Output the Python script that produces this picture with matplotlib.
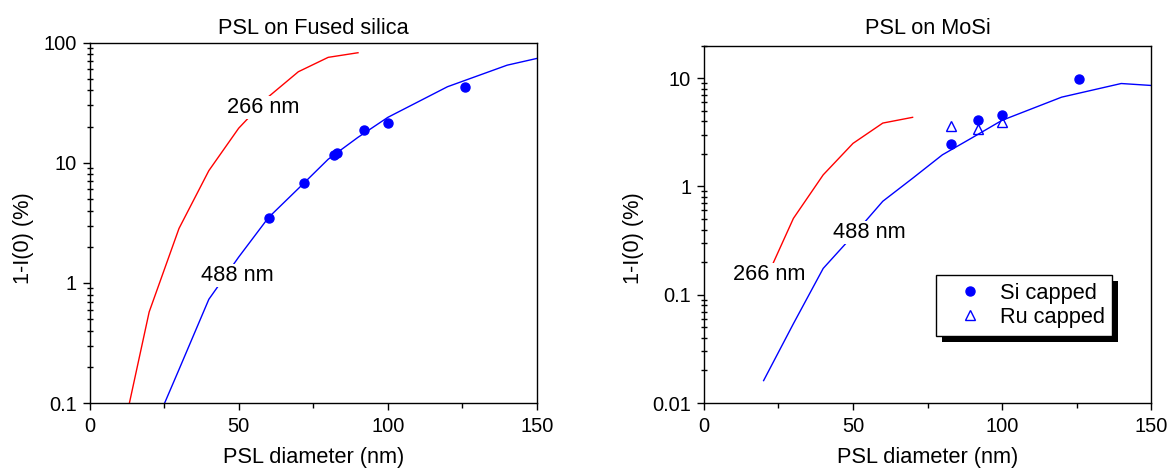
#python3

import numpy as np
import matplotlib
matplotlib.use('Agg')
import matplotlib.pyplot as plt
from matplotlib.patches import Rectangle
from matplotlib.ticker import LogLocator, NullFormatter, FuncFormatter

plt.rcParams['font.family'] = ['Liberation Sans', 'DejaVu Sans']

#PSL on fused silica: calculated curves (266 nm, 488 nm) and measured points
fs_d266 = [10, 20, 30, 40, 50, 60, 70, 80, 90]
fs_t266 = [0.041, 0.573, 2.84, 8.6, 19.4, 35.5, 57.3, 75.5, 82.5]
fs_d488 = [20, 30, 40, 50, 60, 70, 80, 90, 100, 120, 140, 150]
fs_t488 = [0.05, 0.19, 0.73, 1.64, 3.5, 6.1, 10.7, 16.3, 23.9, 43, 65, 74]
fs_meas_d = [60, 72, 82, 83, 92, 100, 126]
fs_meas_t = [3.5, 6.8, 11.6, 12.1, 18.8, 21.3, 42.4]

#PSL on MoSi
mo_d266 = [20, 30, 40, 50, 60, 70]
mo_t266 = [0.125, 0.507, 1.28, 2.5, 3.85, 4.35]
mo_d488 = [20, 30, 40, 50, 60, 70, 80, 90, 100, 120, 140, 150]
mo_t488 = [0.0161, 0.054, 0.175, 0.352, 0.73, 1.19, 1.96, 2.82, 4.08, 6.68, 8.93, 8.57]
si_d = [83, 92, 100, 126]
si_t = [2.49, 4.1, 4.6, 9.93]
ru_d = [83, 92, 100]
ru_t = [3.62, 3.37, 3.96]

W, H = 1171, 473
fs_big = 15.7
fs_tick = 14.4

fig = plt.figure(figsize=(W/100, H/100), dpi=100)
ax1 = fig.add_axes([89.5/W, 70/H, 447.5/W, 360.3/H])
ax2 = fig.add_axes([704/W, 70/H, 447/W, 357.4/H])


def style_axes(ax, ylo, yhi):
    ax.set_yscale('log')
    ax.set_xlim(0, 150)
    ax.set_ylim(ylo, yhi)
    ax.set_xticks([0, 50, 100, 150])
    ax.set_xticks([25, 75, 125], minor=True)
    ax.yaxis.set_major_locator(LogLocator(base=10, numticks=10))
    ax.yaxis.set_minor_locator(LogLocator(base=10, subs=np.arange(2, 10), numticks=20))
    ax.yaxis.set_major_formatter(FuncFormatter(lambda v, p: '%g' % v))
    ax.yaxis.set_minor_formatter(NullFormatter())
    ax.tick_params(which='major', direction='out', length=4.7, width=1,
                   labelsize=fs_tick, top=False, right=False)
    ax.tick_params(axis='x', which='major', pad=5.5)
    ax.tick_params(axis='y', which='major', pad=4.5)
    ax.tick_params(axis='y', which='minor', direction='inout', length=5, width=1, right=False)
    ax.tick_params(axis='x', which='minor', direction='out', length=3.5, width=1, top=False)
    for sp in ax.spines.values():
        sp.set_linewidth(1)
    ax.set_xlabel('PSL diameter (nm)', fontsize=fs_big)
    ax.set_ylabel('1-I(0) (%)', fontsize=fs_big)


def curve_label(ax, x, y, s):
    ax.text(x, y, s, ha='left', va='baseline', fontsize=fs_big, zorder=3,
            bbox=dict(boxstyle='square,pad=0.05', fc='white', ec='none'))


#left panel
ax1.plot(fs_d266, fs_t266, color='red', lw=1)
ax1.plot(fs_d488, fs_t488, color='blue', lw=1)
ax1.plot(fs_meas_d, fs_meas_t, 'o', color='blue', ms=6.5)
curve_label(ax1, 46.2, 25.8, '266 nm')
curve_label(ax1, 37.3, 1.04, '488 nm')
style_axes(ax1, 0.1, 100)
ax1.set_title('PSL on Fused silica', fontsize=fs_big, pad=6.3)
ax1.xaxis.set_label_coords(0.5, -0.1235)
ax1.yaxis.set_label_coords(-0.124, 0.458)

#right panel
ax2.plot(mo_d266, mo_t266, color='red', lw=1)
ax2.plot(mo_d488, mo_t488, color='blue', lw=1)
ax2.plot(si_d, si_t, 'o', color='blue', ms=6.5, label='Si capped')
ax2.plot(ru_d, ru_t, '^', mfc='none', mec='blue', mew=1, ms=7, label='Ru capped')
curve_label(ax2, 9.6, 0.136, '266 nm')
curve_label(ax2, 43.4, 0.335, '488 nm')
style_axes(ax2, 0.01, 20)
ax2.set_title('PSL on MoSi', fontsize=fs_big, pad=8.5)
ax2.xaxis.set_label_coords(0.5, -0.123)
ax2.yaxis.set_label_coords(-0.134, 0.462)

leg = ax2.legend(loc='upper left', bbox_to_anchor=(935.5/W, 1 - 275/H),
                 bbox_transform=fig.transFigure, frameon=True, fancybox=False,
                 framealpha=1, edgecolor='black', borderpad=0.35, handlelength=2.5,
                 handletextpad=0.1, labelspacing=0.15, borderaxespad=0, fontsize=fs_big)
leg.get_frame().set_linewidth(1)

#solid drop shadow behind the legend box
fig.canvas.draw()
bb = leg.get_window_extent()
shadow = Rectangle(((bb.x0 + 6)/W, (bb.y0 - 6)/H), bb.width/W, bb.height/H,
                   transform=fig.transFigure, facecolor='black', edgecolor='none',
                   zorder=4.5, clip_on=False)
ax2.add_patch(shadow)

plt.savefig('out.png', dpi=100)
